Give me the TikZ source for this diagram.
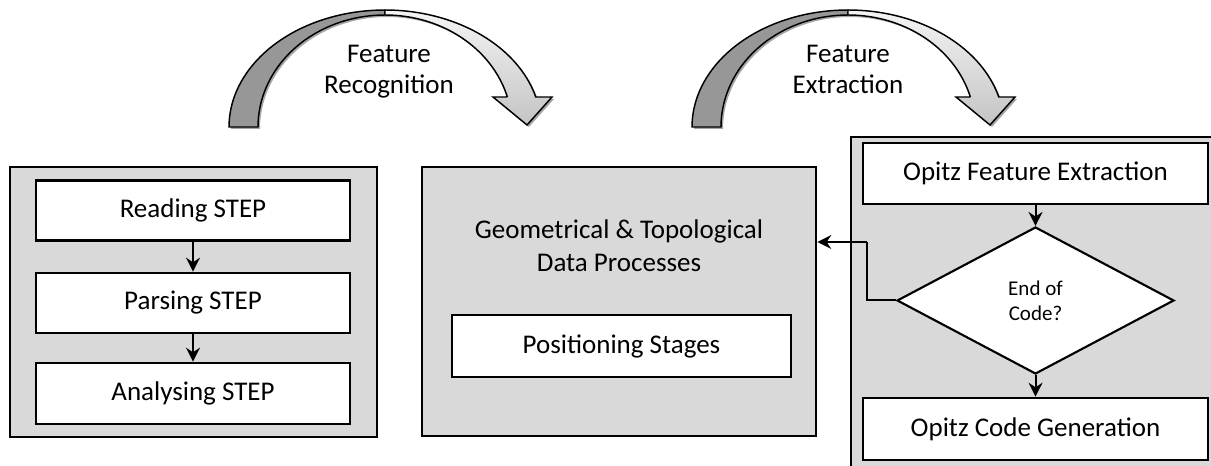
\documentclass[tikz,border=0pt]{standalone}
\usepackage{fontspec}
\setmainfont{Carlito}
\usetikzlibrary{shapes.geometric,arrows.meta}

\definecolor{panelgray}{HTML}{D9D9D9}
\definecolor{ribbondark}{HTML}{979797}
\definecolor{ribbonlight}{HTML}{F4F4F4}
\definecolor{ribbonmid}{HTML}{C4C4C4}

\newcommand\diagfont{\fontsize{20.25}{24.75}\selectfont}
\newcommand\arrowfont{\fontsize{20.25}{23.25}\selectfont}
\newcommand\decisionfont{\fontsize{15.75}{18.75}\selectfont}

\tikzset{
  % curved "process" arrow: a ribbon rising from the left and ending in a head on the right
  pics/bendarrow/.style={code={
    \path[draw=black, line width=1.1pt, fill=ribbondark,
          preaction={fill=black!35, transform canvas={shift={(1.5pt,-1.5pt)}}}]
      (-156,0) -- plot[domain=180:270, samples=40] ({156*cos(\x)},{117*sin(\x)})
      -- plot[domain=270:180, samples=40] ({127*cos(\x)},{112*sin(\x)}) -- cycle;
    \path[draw=black, line width=1.1pt, top color=ribbonlight, bottom color=ribbonmid,
          preaction={fill=black!35, transform canvas={shift={(1.5pt,-1.5pt)}}}]
      (0,-117) -- plot[domain=270:345.14, samples=40] ({156*cos(\x)},{117*sin(\x)})
      -- (167,-30) -- (142,-2) -- (108,-30) -- (122.4,-30)
      -- plot[domain=344.46:270, samples=40] ({127*cos(\x)},{112*sin(\x)}) -- cycle;
  }}
}

\begin{document}
\begin{tikzpicture}[x=0.75pt, y=-0.75pt,
  panel/.style={draw=black, line width=2pt, fill=panelgray, inner sep=0pt},
  stepbox/.style={draw=black, line width=2pt, fill=white, inner sep=0pt, font=\diagfont},
  conn/.style={line width=1.5pt, -{Stealth[length=10.5pt,width=10.5pt,inset=3.5pt]}},
  arrowtext/.style={align=center, font=\arrowfont, inner sep=0pt}
]
\path[use as bounding box] (0,0) rectangle (1211,466);
\clip (0,0) rectangle (1211,466);

% transition arrows between the stages
\pic at (385,127) {bendarrow};
\pic at (848,127) {bendarrow};
\node[arrowtext] (frec) at (389,72) {Feature\\Recognition};
\node[arrowtext] (fext) at (848,69) {Feature\\Extraction};

% stage 1: STEP handling
\node[panel, minimum width=275.25pt, minimum height=202.5pt] (lp) at (193.5,302) {};
\node[stepbox, minimum width=235.5pt, minimum height=45pt] (rs) at (193,210.5) {Reading STEP};
\node[stepbox, minimum width=235.5pt, minimum height=45pt] (ps) at (193,303) {Parsing STEP};
\node[stepbox, minimum width=235.5pt, minimum height=45.75pt] (as) at (193,393.5) {Analysing STEP};
\draw[conn] (rs) -- (ps);
\draw[conn] (ps) -- (as);

% stage 2: geometry and topology
\node[panel, minimum width=295.5pt, minimum height=201.75pt] (mid) at (619,301.5) {};
\node[align=center, font=\diagfont, inner sep=0pt] (geo) at (619,246) {Geometrical \& Topological\\Data Processes};
\node[stepbox, minimum width=254.25pt, minimum height=46.5pt] (pos) at (621.5,346) {Positioning Stages};

% stage 3: Opitz coding
\node[panel, minimum width=291.75pt, minimum height=264.75pt] (rp) at (1045.5,313.5) {};
\node[stepbox, minimum width=258.75pt, minimum height=45.75pt] (fe) at (1035.5,173.5) {Opitz Feature Extraction};
\node[diamond, draw=black, line width=1.6pt, fill=white, inner sep=0pt,
      minimum width=207.75pt, minimum height=110.25pt, align=center, font=\decisionfont]
      (dia) at (1035.5,300.5) {End of\\Code?};
\node[stepbox, minimum width=258.75pt, minimum height=46.5pt] (cg) at (1035.5,429) {Opitz Code Generation};
\draw[conn] (fe) -- (dia);
\draw[conn] (dia) -- (cg);

% loop back to the geometry stage
\coordinate (bend) at (867,242);
\draw[line width=1.5pt] (dia.west) -| (bend);
\draw[conn] (bend) -- (bend -| mid.east);
\end{tikzpicture}
\end{document}
